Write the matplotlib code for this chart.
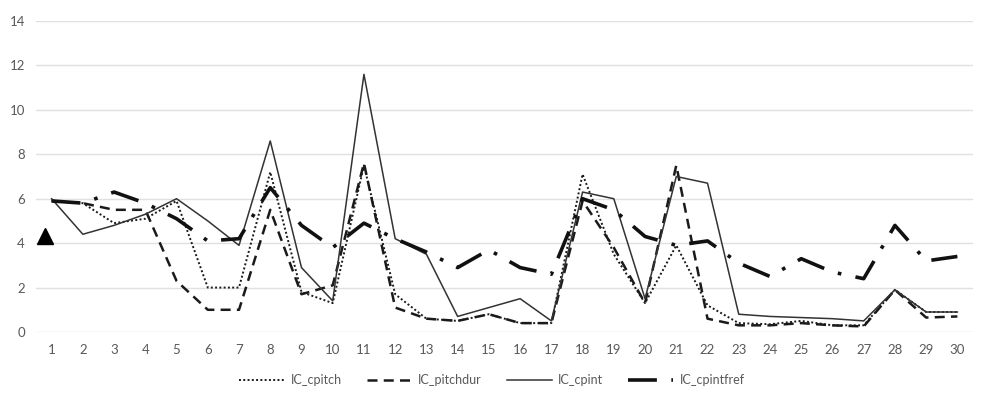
import matplotlib
matplotlib.use("Agg")
import matplotlib.pyplot as plt

plt.rcParams['font.family'] = ['Lato', 'DejaVu Sans']

positions = list(range(1, 31))
tick_labels = [str(i) for i in positions]

ic_cpitch = [5.9, 5.8, 4.9, 5.1, 5.9, 2.0, 2.0, 7.2, 1.8, 1.3,
             7.5, 1.7, 0.6, 0.5, 0.8, 0.4, 0.4, 7.1, 3.5, 1.3,
             3.9, 1.2, 0.4, 0.35, 0.5, 0.3, 0.3, 1.9, 0.9, 0.9]
ic_pitchdur = [5.9, 5.8, 5.5, 5.5, 2.3, 1.0, 1.0, 5.5, 1.7, 2.1,
               7.6, 1.1, 0.6, 0.5, 0.8, 0.4, 0.4, 5.9, 3.8, 1.3,
               7.5, 0.6, 0.3, 0.3, 0.4, 0.3, 0.25, 1.9, 0.65, 0.7]
ic_cpint = [6.0, 4.4, 4.8, 5.3, 6.0, 5.0, 3.9, 8.6, 2.9, 1.4,
            11.6, 4.2, 3.5, 0.7, 1.1, 1.5, 0.5, 6.3, 6.0, 1.5,
            7.0, 6.7, 0.8, 0.7, 0.65, 0.6, 0.5, 1.9, 0.9, 0.9]
ic_cpintfref = [5.9, 5.8, 6.3, 5.8, 5.1, 4.1, 4.2, 6.5, 4.8, 3.8,
                4.9, 4.2, 3.6, 2.9, 3.7, 2.9, 2.6, 6.0, 5.5, 4.3,
                3.9, 4.1, 3.1, 2.5, 3.3, 2.7, 2.4, 4.8, 3.2, 3.4]

# stray triangle marker on the left edge
triangle_x = [0.78]
triangle_y = [4.3]

fig = plt.figure(figsize=(9.84, 3.95), dpi=100)
ax = fig.add_axes([36 / 984, 1 - 332 / 395, (973 - 36) / 984, (332 - 21) / 395])

ax.plot(positions, ic_cpitch, color='#1a1a1a', lw=1.4, ls=(0, (1, 1.2)),
        label='IC_cpitch')
ax.plot(positions, ic_pitchdur, color='#1a1a1a', lw=1.8, ls=(0, (4, 2.5)),
        label='IC_pitchdur')
ax.plot(positions, ic_cpint, color='#333333', lw=1.1, ls='-',
        label='IC_cpint')
ax.plot(positions, ic_cpintfref, color='#111111', lw=2.6,
        ls=(0, (8, 4, 1, 4)), label='IC_cpintfref')

ax.plot(triangle_x, triangle_y, marker='^', color='black', ms=11,
        ls='none', clip_on=False)

ax.set_xlim(0.5, 30.5)
ax.set_ylim(0, 14)
ax.set_yticks(range(0, 15, 2))
ax.set_xticks(positions)
ax.set_xticklabels(tick_labels)

ax.grid(axis='y', color='#e0e0e0', lw=1.0)
ax.set_axisbelow(True)
for s in ax.spines.values():
    s.set_visible(False)
ax.tick_params(axis='both', length=0, colors='#595959', labelsize=9.5)
ax.tick_params(axis='y', pad=8)
ax.tick_params(axis='x', pad=9)

leg = fig.legend(loc='center', bbox_to_anchor=(0.5, 1 - 380 / 395), ncol=4,
                 frameon=False, fontsize=9, handlelength=3.6,
                 columnspacing=2.0, handletextpad=0.5)
for t in leg.get_texts():
    t.set_color('#595959')

fig.savefig('out.png', dpi=100, facecolor='white')
